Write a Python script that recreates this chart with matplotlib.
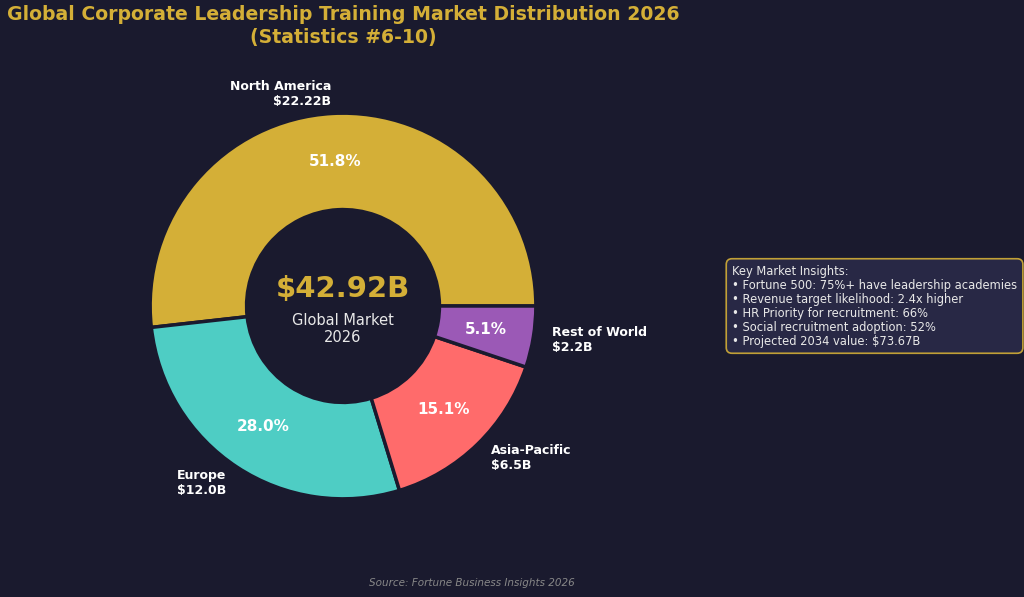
import matplotlib
matplotlib.use("Agg")
import matplotlib.pyplot as plt

# data
regions = ["North America", "Europe", "Asia-Pacific", "Rest of World"]
values = [22.22, 12.0, 6.5, 2.2]
value_labels = ["$22.22B", "$12.0B", "$6.5B", "$2.2B"]
colors = ["#D4AF37", "#4ECDC4", "#FF6B6B", "#9B59B6"]
total_label = "$42.92B"
insights = [
    "Fortune 500: 75%+ have leadership academies",
    "Revenue target likelihood: 2.4x higher",
    "HR Priority for recruitment: 66%",
    "Social recruitment adoption: 52%",
    "Projected 2034 value: $73.67B",
]

bg = "#1a1a2e"
gold = "#D4AF37"

fig = plt.figure(figsize=(10.24, 5.97), dpi=100, facecolor=bg)
ax = fig.add_axes([73 / 1024, 21 / 597, 540 / 1024, 540 / 597])
ax.set_facecolor(bg)

labels = [f"{r}\n{v}" for r, v in zip(regions, value_labels)]
wedges, texts, autotexts = ax.pie(
    values, labels=labels, colors=colors, startangle=0, counterclock=True,
    autopct="%1.1f%%", pctdistance=0.75, labeldistance=1.1,
    wedgeprops=dict(width=0.5, edgecolor=bg, linewidth=2.5),
    textprops=dict(color="white", fontsize=9, fontweight="bold"),
)
for t in autotexts:
    t.set_fontsize(11)
    t.set_fontweight("bold")
    t.set_color("white")

ax.set_xlim(-1.4, 1.4)
ax.set_ylim(-1.4, 1.4)
ax.axis("off")

# center text
ax.text(0, 0.09, total_label, ha="center", va="center", color=gold,
        fontsize=21, fontweight="bold")
ax.text(0, -0.12, "Global Market\n2026", ha="center", va="center",
        color="#e8e8e8", fontsize=10.5)

fig.text(343 / 1024, 1 - 26 / 597,
         "Global Corporate Leadership Training Market Distribution 2026\n(Statistics #6-10)",
         ha="center", va="center", color=gold, fontsize=13.6, fontweight="bold")

box_text = "Key Market Insights:\n" + "\n".join("• " + s for s in insights)
fig.text(732 / 1024, 1 - 306 / 597, box_text, ha="left", va="center",
         color="#e8e8e8", fontsize=8.3, linespacing=1.1,
         bbox=dict(boxstyle="round,pad=0.5", facecolor="#2a2a48",
                   edgecolor=gold, linewidth=1.2, alpha=0.9))

fig.text(472 / 1024, 1 - 583 / 597, "Source: Fortune Business Insights 2026",
         ha="center", va="center", color="#888888", fontsize=7.5, style="italic")

fig.savefig("out.png", dpi=100, facecolor=bg)
